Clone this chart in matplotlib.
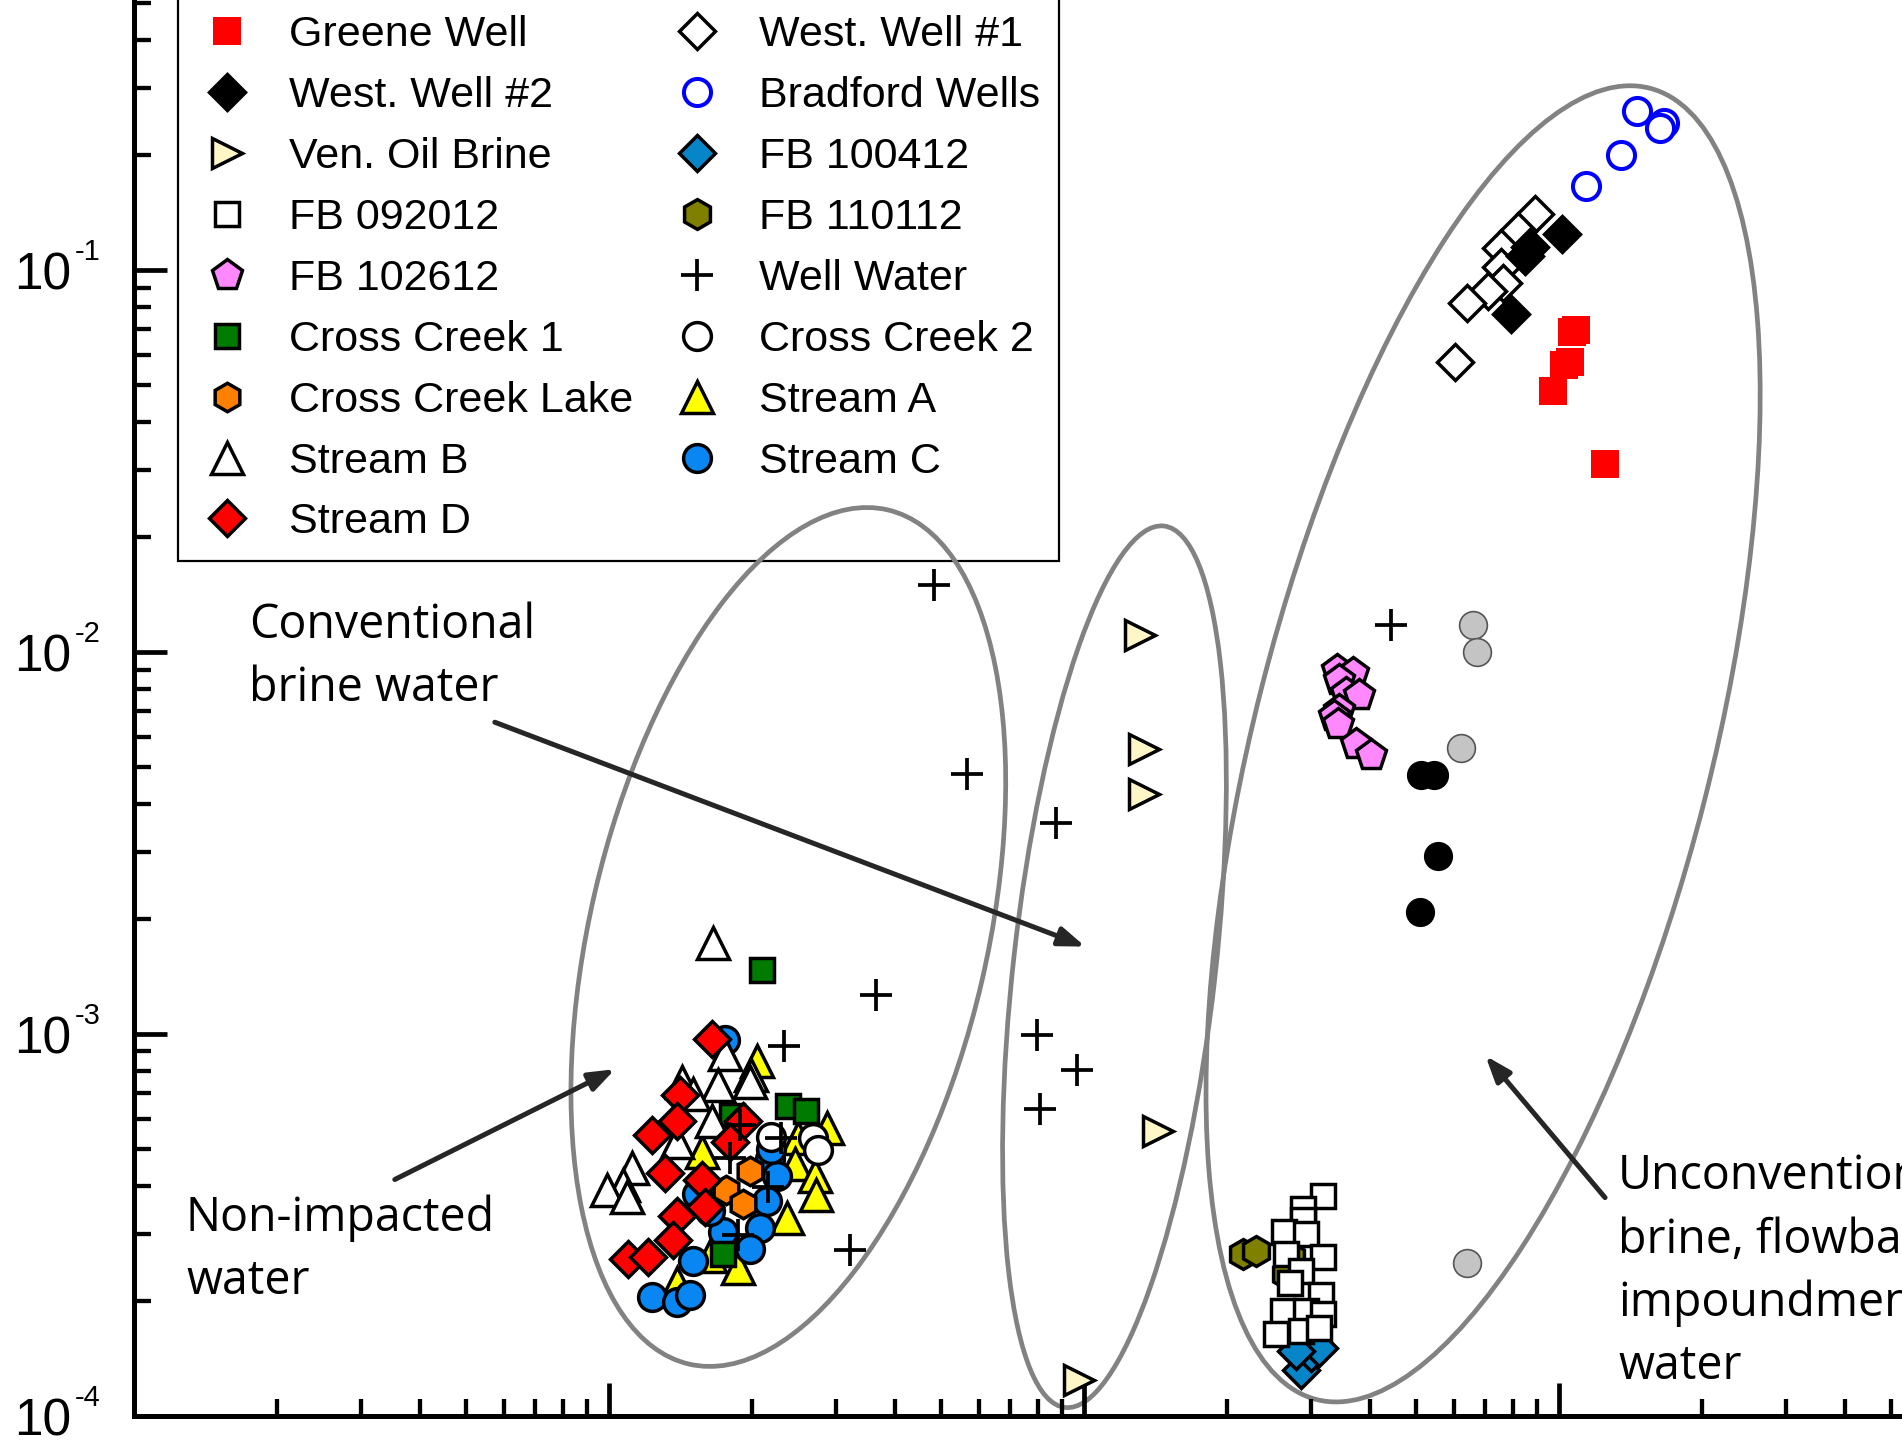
import matplotlib
matplotlib.use('Agg')
import matplotlib.pyplot as plt
import matplotlib.transforms as mtransforms
from matplotlib.patches import Ellipse

plt.rcParams['font.family'] = ['Liberation Sans', 'DejaVu Sans']

# ---- data ----
greene_x = [1086, 1067, 1054, 1024, 971, 1250]
greene_y = [0.0698, 0.0689, 0.0574, 0.0565, 0.0482, 0.0310]

west1_x = [889, 819, 754, 754, 763, 707, 640, 604]
west1_y = [0.140, 0.1265, 0.114, 0.102, 0.0923, 0.0883, 0.0821, 0.0574]

west2_x = [1012, 869, 849, 791]
west2_y = [0.1245, 0.1148, 0.109, 0.0769]

bradford_x = [1456, 1667, 1629, 1349, 1138]
bradford_y = [0.261, 0.242, 0.235, 0.200, 0.166]

ven_x = [131, 134, 134, 143, 97.7]
ven_y = [0.0111, 0.00557, 0.00426, 0.000557, 0.000124]

fb100412_x = [286, 301, 313, 279]
fb100412_y = [0.000132, 0.000146, 0.000151, 0.000148]

fb092012_x = [318, 289, 289, 264, 293, 318, 266, 286, 271, 316, 262, 293, 318, 254, 286, 313]
fb092012_y = [0.000376, 0.000349, 0.000326, 0.000304, 0.000299, 0.000261, 0.000265, 0.000239,
              0.000223, 0.000208, 0.000188, 0.000188, 0.000185, 0.000164, 0.000167, 0.000170]

fb110112_x = [216, 230, 273, 266]
fb110112_y = [0.000265, 0.000270, 0.000261, 0.000235]

fb102612_x = [341, 368, 345, 356, 380, 345, 336, 342, 374, 402]
fb102612_y = [0.00899, 0.00883, 0.00845, 0.00783, 0.00770, 0.00707, 0.00680, 0.00649, 0.00576, 0.00538]

wellwater_x = [48.3, 56.6, 87.4, 36.4, 23.4, 79.5, 96.5, 80.9, 32.2, 442,
               18.86, 17.98, 21.65, 23.07, 18.72]
wellwater_y = [0.01496, 0.00478, 0.00356, 0.001265, 0.000929, 0.000993, 0.000804, 0.000636,
               0.000272, 0.01175, 0.000579, 0.000475, 0.000398, 0.000533, 0.000298]

cc1_x = [20.95, 23.84, 26.04, 18.13, 17.40]
cc1_y = [0.001475, 0.000649, 0.000629, 0.000610, 0.000266]

cc2_x = [21.98, 26.9, 27.55]
cc2_y = [0.000538, 0.000533, 0.000496]

ccl_x = [19.8, 17.67, 19.17]
ccl_y = [0.000438, 0.000390, 0.000359]

streamA_x = [20.46, 15.66, 25.0, 28.7, 24.62, 27.12, 27.33, 23.64, 18.72, 13.88, 16.31]
streamA_y = [0.000850, 0.000490, 0.000533, 0.000568, 0.000456, 0.000424, 0.000378, 0.000330,
             0.000244, 0.000223, 0.000263]

streamB_x = [16.57, 17.55, 19.95, 19.8, 17.0, 14.22, 15.05, 16.44, 13.88, 11.16, 10.72, 9.89, 10.89]
streamB_y = [0.001727, 0.000888, 0.000783, 0.000751, 0.000735, 0.000751, 0.000698, 0.000591,
             0.000522, 0.000447, 0.000403, 0.000390, 0.000374]

streamC_x = [17.55, 15.30, 21.81, 22.53, 21.46, 17.40, 20.78, 19.8, 15.05, 12.30, 13.88, 14.80, 16.31, 21.98]
streamC_y = [0.000964, 0.000382, 0.000470, 0.000424, 0.000366, 0.000304, 0.000310, 0.000274,
             0.000255, 0.000205, 0.000199, 0.000207, 0.000344, 0.000500]

streamD_x = [16.44, 14.11, 13.88, 12.30, 19.17, 17.98, 13.12, 15.66, 15.92, 13.88, 13.66, 10.98, 12.10]
streamD_y = [0.000973, 0.000691, 0.000591, 0.000545, 0.000591, 0.000522, 0.000433, 0.000415,
             0.000352, 0.000334, 0.000289, 0.000258, 0.000260]

# unlabelled samples (not in legend)
gray_x = [660, 672, 621, 639]
gray_y = [0.0118, 0.0100, 0.00562, 0.000251]
black_x = [512, 546, 555, 510]
black_y = [0.00477, 0.00477, 0.00292, 0.00209]

# y axis decades and their exponents
ytick_vals = [1e-4, 1e-3, 1e-2, 1e-1]
ytick_exp = ['-4', '-3', '-2', '-1']

# group outlines: centre (data), size (inches), tilt (deg)
ell_cx = [23.85, 115.9, 692]
ell_cy = [0.001795, 0.0015, 0.00575]
ell_w = [3.97, 2.02, 4.57]
ell_h = [8.77, 8.87, 13.53]
ell_ang = [-13.1, -6.4, -14.25]

# ---- figure ----
W, H = 1902, 1440
fig = plt.figure(figsize=(W / 100, H / 100), dpi=100)
ax = fig.add_axes([134 / W, 24 / H, 1 - 134 / W, 1 - 24 / H])
ax.set_xscale('log')
ax.set_yscale('log')

K = dict(ls='none', mec='black', mew=2.5)
series = {}


def add(name, x, y, **kw):
    opts = dict(K)
    opts.update(kw)
    series[name] = ax.plot(x, y, label=name, **opts)[0]


add('Greene Well', greene_x, greene_y, marker='s', ms=20, mfc='#FF0000', mec='#FF0000', mew=0)
add('West. Well #1', west1_x, west1_y, marker='D', ms=18, mfc='white')
add('West. Well #2', west2_x, west2_y, marker='D', ms=18, mfc='black')
add('Bradford Wells', bradford_x, bradford_y, marker='o', ms=19.5, mfc='white', mec='#0000FF', mew=2.9)
add('Ven. Oil Brine', ven_x, ven_y, marker='>', ms=22, mfc='#FFF6C8')
add('FB 100412', fb100412_x, fb100412_y, marker='D', ms=18, mfc='#0685C8')
add('FB 110112', fb110112_x, fb110112_y, marker='h', ms=21.5, mfc='#808000')
add('FB 092012', fb092012_x, fb092012_y, marker='s', ms=17, mfc='white')
add('FB 102612', fb102612_x, fb102612_y, marker='p', ms=22.5, mfc='#FF88FF')
ax.plot(gray_x, gray_y, ls='none', marker='o', ms=20, mfc='#C4C4C4', mec='#555555', mew=1.2)
ax.plot(black_x, black_y, ls='none', marker='o', ms=20, mfc='black', mec='black', mew=1)
add('Stream A', streamA_x, streamA_y, marker='^', ms=22.5, mfc='#FFFF00')
add('Stream C', streamC_x, streamC_y, marker='o', ms=20, mfc='#0A86F2')
add('Cross Creek 2', cc2_x, cc2_y, marker='o', ms=20, mfc='white')
add('Cross Creek 1', cc1_x, cc1_y, marker='s', ms=17, mfc='#007A00')
add('Stream B', streamB_x, streamB_y, marker='^', ms=22.5, mfc='white')
add('Cross Creek Lake', ccl_x, ccl_y, marker='h', ms=20.5, mfc='#FF8000')
add('Stream D', streamD_x, streamD_y, marker='D', ms=18, mfc='#FF0000')
add('Well Water', wellwater_x, wellwater_y, marker='+', ms=23, mew=2.7)

# ellipses drawn in physical units around a data centre
for cx, cy, w, h, a in zip(ell_cx, ell_cy, ell_w, ell_h, ell_ang):
    tr = fig.dpi_scale_trans + mtransforms.ScaledTranslation(cx, cy, ax.transData)
    ax.add_patch(Ellipse((0, 0), w, h, angle=a, transform=tr, fill=False,
                         edgecolor='#828282', lw=3.4, zorder=1.5))

ax.set_xlim(1, 10 ** 3.722)
ax.set_ylim(1e-4, 10 ** -0.293)

# arrows
arrow_kw = dict(arrowstyle='-|>,head_length=0.6,head_width=0.22', color='#262626',
                lw=3.6, mutation_scale=26, shrinkA=0, shrinkB=0)
ax.annotate('', xy=(100.6, 0.001694), xytext=(5.75, 0.00655), arrowprops=arrow_kw)
ax.annotate('', xy=(10.3, 0.000809), xytext=(3.54, 0.000416), arrowprops=arrow_kw)
ax.annotate('', xy=(700, 0.000877), xytext=(1250, 0.000373), arrowprops=arrow_kw)

# notes (y = baseline of the last line)
note = dict(family=['Open Sans', 'DejaVu Sans'], fontsize=33.5, ha='left', va='baseline',
            linespacing=1.43, color='black')
fig.text(249 / W, 1 - 701 / H, 'Conventional\nbrine water', **note)
fig.text(186 / W, 1 - 1294 / H, 'Non-impacted\nwater', **note)
fig.text(1618 / W, 1 - 1379 / H, 'Unconventional\nbrine, flowback,\nimpoundment\nwater', **note)

# axes styling
for s in ['top', 'right']:
    ax.spines[s].set_visible(False)
for s in ['left', 'bottom']:
    ax.spines[s].set_linewidth(3.6)
ax.tick_params(which='major', direction='in', length=24, width=3.4, labelsize=37, pad=45)
ax.tick_params(which='minor', direction='in', length=12.5, width=3.1)
ax.tick_params(axis='x', which='both', labelbottom=False)
ax.set_yticks(ytick_vals)
ax.set_yticklabels(['10'] * len(ytick_vals))
for v, e in zip(ytick_vals, ytick_exp):
    ax.annotate(e, xy=(0, v), xycoords=('axes fraction', 'data'), xytext=(-43, 13.3),
                textcoords='offset points', fontsize=21, ha='left', va='center',
                annotation_clip=False)

order = ['Greene Well', 'West. Well #2', 'Ven. Oil Brine', 'FB 092012', 'FB 102612',
         'Cross Creek 1', 'Cross Creek Lake', 'Stream B', 'Stream D',
         'West. Well #1', 'Bradford Wells', 'FB 100412', 'FB 110112', 'Well Water',
         'Cross Creek 2', 'Stream A', 'Stream C']
leg = ax.legend([series[n] for n in order], order, ncol=2, loc='lower left',
                bbox_to_anchor=(178 / W, 1 - 561 / H), bbox_transform=fig.transFigure,
                borderaxespad=0, fontsize=31, numpoints=1, handlelength=1.42,
                handletextpad=0.73, columnspacing=0.78, labelspacing=0.485,
                borderpad=0.43, fancybox=False, framealpha=1, edgecolor='black')
leg.get_frame().set_linewidth(1.6)
leg.set_zorder(1)

fig.savefig('out.png', dpi=100)
